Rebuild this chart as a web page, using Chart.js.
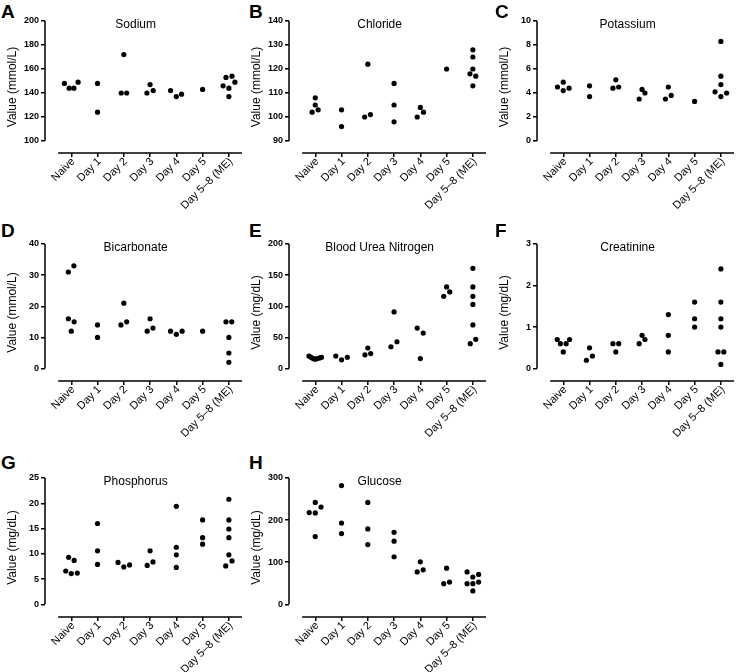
<!DOCTYPE html>
<html lang="en">
<head>
<meta charset="UTF-8">
<title>Serum chemistry</title>
<script src="https://cdn.jsdelivr.net/npm/chart.js@4.4.1/dist/chart.umd.min.js"></script>
<style>
    body { margin: 0; background: #fff; width: 738px; height: 672px; position: relative; overflow: hidden;
           font-family: Arial, "Liberation Sans", sans-serif; }
    canvas { position: absolute; }
    .letter { position: absolute; font-weight: bold; font-size: 19px; line-height: 1; color: #000; }
</style>
</head>
<body>
<script>
const groups = ['Naive', 'Day 1', 'Day 2', 'Day 3', 'Day 4', 'Day 5', 'Day 5–8 (ME)'];

// values per group, spread = horizontal offset of each dot inside its column
const sodium = [[148, 144, 144, 149], [148, 124], [172, 140, 140], [140, 147, 142], [142, 137, 139], [143], [146, 153, 144, 137, 154, 149]];
const sodiumSpread = [[-0.26, -0.08, 0.1, 0.26], [0, 0], [0, -0.1, 0.11], [-0.12, 0, 0.12], [-0.22, 0, 0.2], [0], [-0.22, -0.11, 0, 0, 0.12, 0.23]];
const sodiumTicks = [100, 120, 140, 160, 180, 200];

const chloride = [[102, 108, 105, 103], [103, 96], [100, 122, 101], [114, 105, 98], [100, 104, 102], [120], [128, 125, 120, 118, 117, 113]];
const chlorideSpread = [[-0.12, 0, 0, 0.11], [0, 0], [-0.12, 0, 0.1], [0, 0, 0], [-0.12, 0, 0.12], [0], [0, 0, 0, -0.11, 0.11, 0]];
const chlorideTicks = [90, 100, 110, 120, 130, 140];

const potassium = [[4.5, 4.9, 4.2, 4.4], [4.6, 3.7], [4.4, 5.1, 4.5], [3.5, 4.3, 4.0], [3.5, 4.5, 3.8], [3.3], [4.1, 8.3, 5.4, 4.7, 3.7, 4.0]];
const potassiumSpread = [[-0.22, 0, 0, 0.22], [0, 0], [-0.11, 0, 0.11], [-0.11, 0, 0.11], [-0.11, 0, 0.11], [0], [-0.22, 0, 0, 0, 0, 0.22]];
const potassiumTicks = [0, 2, 4, 6, 8, 10];

const bicarbonate = [[31, 33, 16, 12, 15], [14, 10], [14, 21, 15], [12, 16, 13], [12, 11, 12], [12], [15, 15, 10, 5, 2]];
const bicarbonateSpread = [[-0.11, 0.1, -0.11, 0, 0.11], [0, 0], [-0.11, 0, 0.11], [-0.11, 0, 0.11], [-0.22, 0, 0.22], [0], [-0.11, 0.11, 0, 0, 0]];
const bicarbonateTicks = [0, 10, 20, 30, 40];

const bun = [[20, 18, 16, 15, 16, 17, 18], [20, 14, 18], [22, 33, 24], [35, 91, 43], [65, 16, 57], [116, 131, 123], [161, 131, 116, 103, 70, 40, 47]];
const bunSpread = [[-0.24, -0.16, -0.08, 0, 0.08, 0.16, 0.24], [-0.22, 0, 0.22], [-0.11, 0, 0.11], [-0.12, 0, 0.11], [-0.12, 0, 0.11], [-0.11, 0, 0.12], [0, 0, 0, 0, 0, -0.1, 0.11]];
const bunTicks = [0, 50, 100, 150, 200];

const creatinine = [[0.7, 0.6, 0.6, 0.4, 0.7], [0.2, 0.5, 0.3], [0.6, 0.4, 0.6], [0.6, 0.8, 0.7], [1.3, 0.8, 0.4], [1.6, 1.2, 1.0], [2.4, 1.6, 1.2, 1.0, 0.4, 0.4, 0.1]];
const creatinineSpread = [[-0.23, -0.11, 0.11, 0, 0.24], [-0.12, 0, 0.11], [-0.11, 0, 0.11], [-0.11, 0, 0.11], [0, 0, 0], [0, 0, 0], [0, 0, 0, 0, -0.11, 0.11, 0]];
const creatinineTicks = [0, 1, 2, 3];

const phosphorus = [[6.6, 9.3, 6.1, 8.7, 6.2], [16.0, 10.6, 7.9], [8.3, 7.4, 7.8], [7.7, 10.6, 8.4], [19.4, 11.3, 9.8, 7.3], [16.7, 13.2, 11.9], [20.8, 16.7, 14.9, 13.2, 9.8, 7.6, 8.6]];
const phosphorusSpread = [[-0.21, -0.1, 0, 0.11, 0.23], [0, 0, 0], [-0.22, 0, 0.22], [-0.11, 0, 0.11], [0, 0, 0, 0], [0, 0, 0], [0, 0, 0, 0, 0, -0.12, 0.12]];
const phosphorusTicks = [0, 5, 10, 15, 20, 25];

const glucose = [[218, 242, 217, 231, 161], [282, 193, 168], [242, 179, 142], [171, 150, 113], [77, 101, 82], [49, 86, 53], [77, 49, 65, 49, 32, 71, 53]];
const glucoseSpread = [[-0.23, 0, 0, 0.22, 0], [0, 0, 0], [0, 0, 0], [0, 0, 0], [-0.12, 0, 0.11], [-0.11, 0, 0.11], [-0.22, -0.22, 0, 0, 0, 0.22, 0.22]];
const glucoseTicks = [0, 100, 200, 300];

const panels = [
    {letter: 'A', name: 'Sodium', unit: 'Value (mmol/L)', values: sodium, spread: sodiumSpread, ticks: sodiumTicks, col: 0, row: 0},
    {letter: 'B', name: 'Chloride', unit: 'Value (mmol/L)', values: chloride, spread: chlorideSpread, ticks: chlorideTicks, col: 1, row: 0},
    {letter: 'C', name: 'Potassium', unit: 'Value (mmol/L)', values: potassium, spread: potassiumSpread, ticks: potassiumTicks, col: 2, row: 0},
    {letter: 'D', name: 'Bicarbonate', unit: 'Value (mmol/L)', values: bicarbonate, spread: bicarbonateSpread, ticks: bicarbonateTicks, col: 0, row: 1},
    {letter: 'E', name: 'Blood Urea Nitrogen', unit: 'Value (mg/dL)', values: bun, spread: bunSpread, ticks: bunTicks, col: 1, row: 1},
    {letter: 'F', name: 'Creatinine', unit: 'Value (mg/dL)', values: creatinine, spread: creatinineSpread, ticks: creatinineTicks, col: 2, row: 1},
    {letter: 'G', name: 'Phosphorus', unit: 'Value (mg/dL)', values: phosphorus, spread: phosphorusSpread, ticks: phosphorusTicks, col: 0, row: 2},
    {letter: 'H', name: 'Glucose', unit: 'Value (mg/dL)', values: glucose, spread: glucoseSpread, ticks: glucoseTicks, col: 1, row: 2}
];

// page layout
const colLeft = [0, 244, 492];
const letterLeft = [1, 249, 495];
const rowTop = [11, 234, 468];      // canvas top (chart area starts 10px lower)
const rowArea = [132, 137, 139];    // chart area height
const letterTop = [2, 221, 453];

const FONT = 'Arial, "Liberation Sans", sans-serif';
Chart.defaults.font.family = FONT;
Chart.defaults.color = '#000';

// Prism style axes: y line only over the tick range, x line detached below
const prismAxes = {
    id: 'prismAxes',
    afterDraw(chart, args, opts) {
        const {ctx, chartArea, scales: {x, y}} = chart;
        ctx.save();
        ctx.strokeStyle = '#000';
        ctx.lineWidth = 1.5;
        ctx.beginPath();
        ctx.moveTo(chartArea.left, y.getPixelForValue(opts.top));
        ctx.lineTo(chartArea.left, y.getPixelForValue(opts.bottom));
        ctx.moveTo(x.getPixelForValue(-0.5), chartArea.bottom);
        ctx.lineTo(x.getPixelForValue(6.5), chartArea.bottom);
        ctx.stroke();
        ctx.font = '12px ' + FONT;
        ctx.fillStyle = '#000';
        ctx.textAlign = 'center';
        ctx.textBaseline = 'middle';
        ctx.fillText(opts.title, chartArea.left + chartArea.width * 0.46, chartArea.top + 4);
        ctx.restore();
    }
};

panels.forEach(p => {
    const lab = document.createElement('div');
    lab.className = 'letter';
    lab.textContent = p.letter;
    lab.style.left = letterLeft[p.col] + 'px';
    lab.style.top = letterTop[p.row] + 'px';
    document.body.appendChild(lab);

    const cv = document.createElement('canvas');
    cv.width = 246;
    cv.height = 10 + rowArea[p.row] + 60;
    cv.style.left = colLeft[p.col] + 'px';
    cv.style.top = rowTop[p.row] + 'px';
    document.body.appendChild(cv);

    const pts = [];
    p.values.forEach((grp, gi) => {
        grp.forEach((v, k) => pts.push({x: gi + p.spread[gi][k], y: v}));
    });
    const lo = p.ticks[0];
    const hi = p.ticks[p.ticks.length - 1];

    new Chart(cv.getContext('2d'), {
        type: 'scatter',
        data: {
            datasets: [{
                data: pts,
                pointRadius: 2.6,
                pointBackgroundColor: '#000',
                pointBorderWidth: 0,
                clip: false
            }]
        },
        plugins: [prismAxes],
        options: {
            responsive: false,
            animation: false,
            layout: {padding: {top: 10, right: 1, left: 0, bottom: 0}},
            plugins: {
                legend: {display: false},
                tooltip: {enabled: false},
                prismAxes: {top: hi, bottom: lo, title: p.name}
            },
            scales: {
                x: {
                    type: 'linear',
                    min: -1,
                    max: 6.5,
                    afterBuildTicks: s => { s.ticks = groups.map((g, i) => ({value: i})); },
                    afterFit: s => { s.height = 60; },
                    grid: {drawOnChartArea: false, drawTicks: true, tickLength: 4, color: '#000', lineWidth: 1.5},
                    border: {display: false},
                    ticks: {
                        callback: v => groups[v],
                        minRotation: 45,
                        maxRotation: 45,
                        autoSkip: false,
                        padding: -2,
                        labelOffset: 2,
                        color: '#000',
                        font: {size: 11}
                    }
                },
                y: {
                    min: lo - (hi - lo) * 0.1,
                    max: hi,
                    afterBuildTicks: s => { s.ticks = p.ticks.map(v => ({value: v})); },
                    afterFit: s => { s.width = 45; },
                    grid: {drawOnChartArea: false, drawTicks: true, tickLength: 4, color: '#000', lineWidth: 1.5},
                    border: {display: false},
                    ticks: {padding: 2, color: '#000', font: {size: 9, weight: 'bold'}},
                    title: {display: true, text: p.unit, color: '#000', font: {size: 12}, padding: {top: 5, bottom: 0}}
                }
            }
        }
    });
});
</script>
</body>
</html>
